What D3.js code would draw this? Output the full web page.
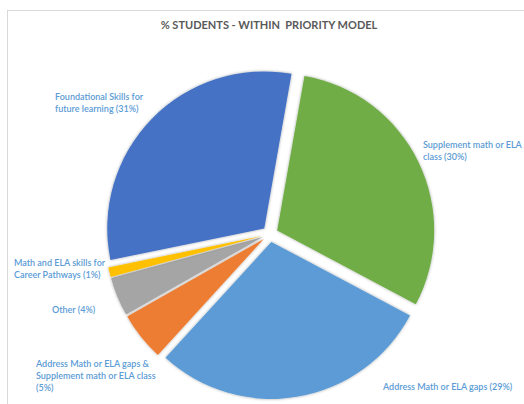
<!DOCTYPE html>
<html>
<head>
<meta charset="utf-8">
<script src="https://cdn.jsdelivr.net/npm/d3@7"></script>
<style>
  html, body { margin: 0; padding: 0; background: #ffffff; }
  svg { display: block; }
</style>
</head>
<body>
<svg id="chart" width="524" height="404"></svg>
<script>
// ---- data ----
const categories = [
  "Supplement math or ELA class",
  "Address Math or ELA gaps",
  "Address Math or ELA gaps & Supplement math or ELA class",
  "Other",
  "Math and ELA skills for Career Pathways",
  "Foundational Skills for future learning"
];
const values = [30, 29, 5, 4, 1, 31];
const labelLines = [
  ["Supplement math or ELA", "class (30%)"],
  ["Address Math or ELA gaps (29%)"],
  ["Address Math or ELA gaps &", "Supplement math or ELA class", "(5%)"],
  ["Other (4%)"],
  ["Math and ELA skills for", "Career Pathways (1%)"],
  ["Foundational Skills for", "future learning (31%)"]
];
const colors = ["#70AD47", "#5B9BD5", "#ED7D31", "#A5A5A5", "#FFC000", "#4472C4"];
const title = "% STUDENTS - WITHIN  PRIORITY MODEL";

// ---- layout (not data) ----
const W = 524, H = 404;
const cx = 270, cy = 234, R = 157, explode = 8;
const startDeg = 10;
// label anchor positions (left x, first baseline y)
const labelPos = [
  [423, 148], [383, 390], [36, 367], [52, 313], [14, 266], [55, 100]
];
const lineH = 12;

const svg = d3.select("#chart");

// border of chart area
svg.append("rect")
  .attr("x", 7.5).attr("y", 10.5)
  .attr("width", W + 10).attr("height", H + 10)
  .attr("fill", "#fff").attr("stroke", "#d9d9d9").attr("stroke-width", 1);

const defs = svg.append("defs");
const f = defs.append("filter").attr("id", "sh")
  .attr("x", "-20%").attr("y", "-20%").attr("width", "140%").attr("height", "140%");
f.append("feDropShadow").attr("dx", 0).attr("dy", 0)
  .attr("stdDeviation", 1.6).attr("flood-color", "#000").attr("flood-opacity", 0.35);

svg.append("text")
  .attr("x", 269).attr("y", 29)
  .attr("text-anchor", "middle")
  .attr("font-family", "Lato, 'Open Sans', sans-serif")
  .attr("font-weight", 700)
  .attr("font-size", 11)
  .attr("fill", "#595959")
  .attr("xml:space", "preserve")
  .style("white-space", "pre")
  .text(title);

const pie = d3.pie().sort(null)
  .startAngle(startDeg * Math.PI / 180)
  .endAngle(startDeg * Math.PI / 180 + 2 * Math.PI);
const arcs = pie(values);
const arc = d3.arc().innerRadius(0).outerRadius(R);

const g = svg.append("g").attr("transform", `translate(${cx},${cy})`);
g.selectAll("path").data(arcs).join("path")
  .attr("d", arc)
  .attr("fill", (d, i) => colors[i])
  .attr("filter", "url(#sh)")
  .attr("transform", d => {
    const m = (d.startAngle + d.endAngle) / 2;
    return `translate(${explode * Math.sin(m)},${-explode * Math.cos(m)})`;
  });

// labels
const lg = svg.append("g")
  .attr("font-family", "Lato, 'Open Sans', sans-serif")
  .attr("font-size", 9)
  .attr("font-weight", 600)
  .attr("fill", "#5B9BD5");
labelLines.forEach((lines, i) => {
  const t = lg.append("text")
    .attr("x", labelPos[i][0]).attr("y", labelPos[i][1]);
  lines.forEach((ln, k) => {
    t.append("tspan").attr("x", labelPos[i][0]).attr("y", labelPos[i][1] + k * lineH).text(ln);
  });
});
</script>
</body>
</html>
